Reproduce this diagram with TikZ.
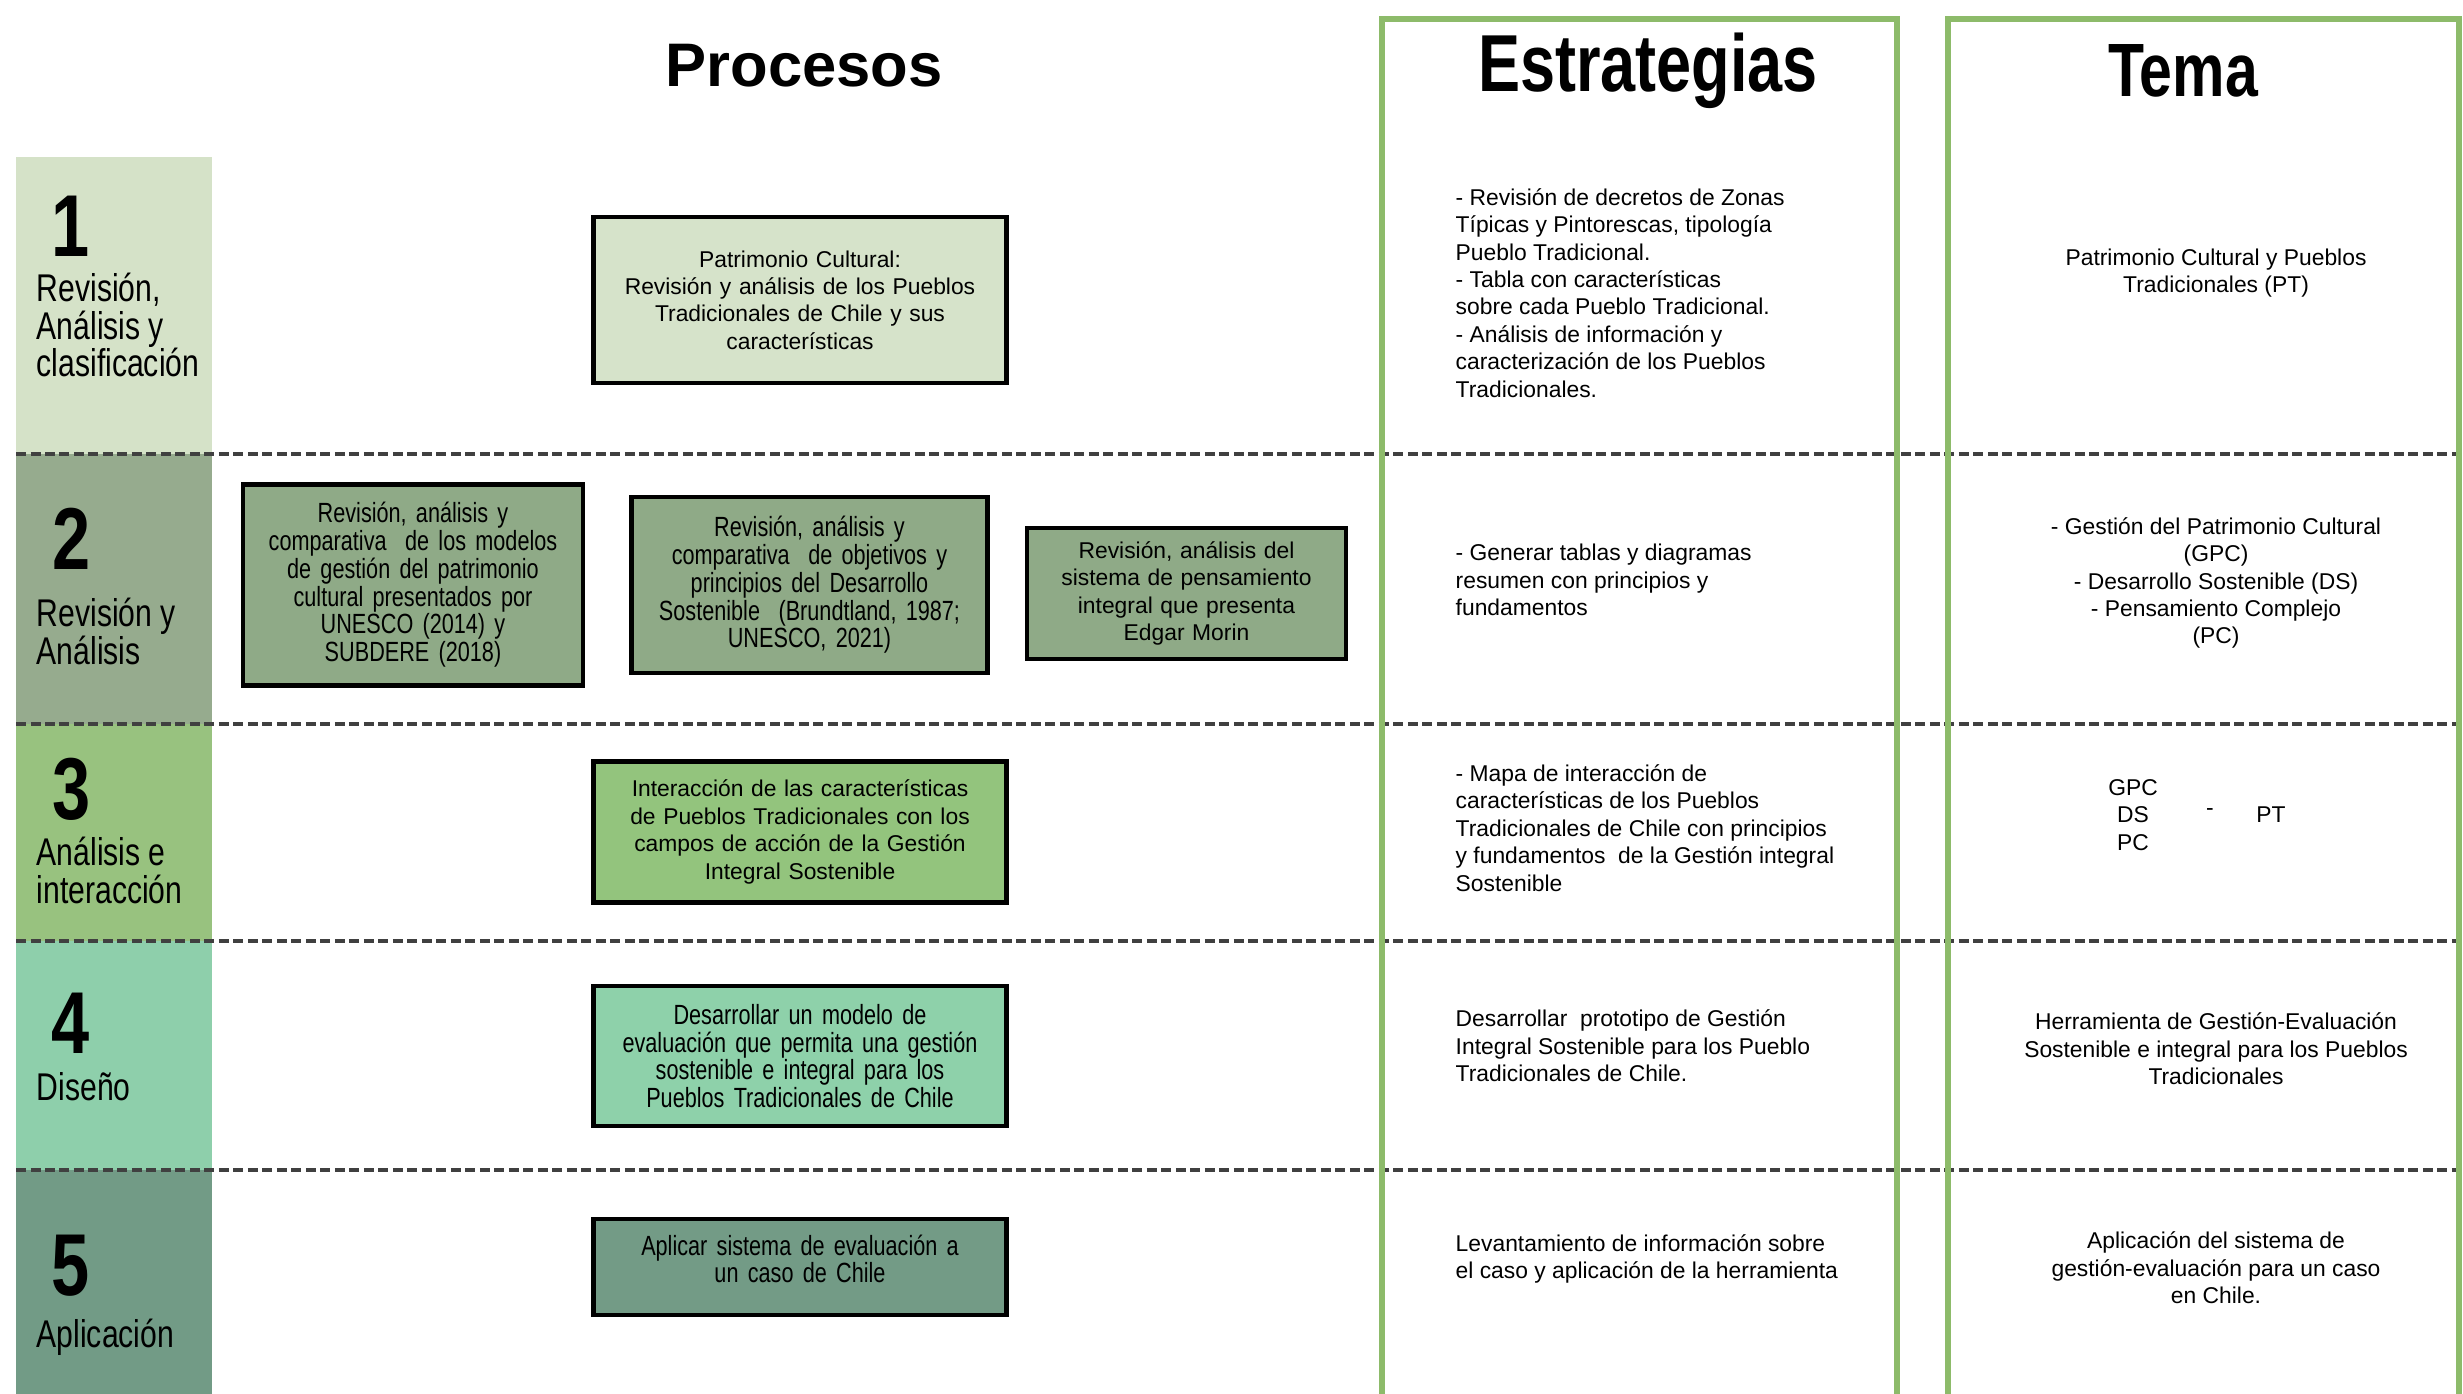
\documentclass[tikz,border=0pt]{standalone}
\usepackage{fontspec}
\setmainfont{Liberation Sans}
\newfontfamily\narrowfont[FakeStretch=0.78]{Liberation Sans}
\usepackage{tikz}
\usetikzlibrary{positioning}

\definecolor{stageA}{RGB}{213,226,200}
\definecolor{stageB}{RGB}{150,171,142}
\definecolor{stageC}{RGB}{152,194,127}
\definecolor{stageD}{RGB}{142,207,171}
\definecolor{stageE}{RGB}{114,155,134}
\definecolor{boxA}{RGB}{214,227,202}
\definecolor{boxB}{RGB}{143,170,135}
\definecolor{boxC}{RGB}{147,196,125}
\definecolor{boxD}{RGB}{142,209,170}
\definecolor{boxE}{RGB}{115,155,134}
\definecolor{frameGreen}{RGB}{141,187,106}
\definecolor{dashGray}{RGB}{64,64,64}

\begin{document}
\begin{tikzpicture}[
  x=0.1mm, y=-0.1mm,
  procbox/.style={rectangle, draw=black, line width=0.45mm, align=center,
                  inner sep=0pt, font={\fontsize{6.5}{7.8}\selectfont}},
  narrowbox/.style={procbox, font={\narrowfont\fontsize{7.9}{7.9}\selectfont\spaceskip=0.2em plus 0.05em}},
  num/.style={font={\narrowfont\bfseries\fontsize{25}{25}\selectfont}, inner sep=0pt},
  stagetext/.style={font={\narrowfont\fontsize{11}{10.8}\selectfont\spaceskip=0.2em plus 0.05em}, align=left,
                    anchor=west, inner sep=0pt},
  head/.style={font={\narrowfont\bfseries\fontsize{23}{23}\selectfont}, inner sep=0pt},
  strat/.style={font={\fontsize{6.5}{7.8}\selectfont}, align=left, anchor=west, inner sep=0pt},
  tema/.style={font={\fontsize{6.5}{7.8}\selectfont}, align=center, inner sep=0pt},
  rowline/.style={dashGray, line width=0.4mm, dash pattern=on 1mm off 0.45mm},
  frame/.style={frameGreen, line width=0.55mm}
]
\useasboundingbox (0,0) rectangle (2463,1394);

% stage column
\foreach \ya/\yb/\col in {157/454/stageA, 454/724/stageB, 724/941/stageC,
                          941/1170/stageD, 1170/1394/stageE}
  \fill[\col] (16,\ya) rectangle (212,\yb);

\foreach \yy in {454,724,941,1170}
  \draw[rowline] (16,\yy) -- (2463,\yy);

\draw[frame] (1382,1394) |- (1897,19) -- (1897,1394);
\draw[frame] (1948,1394) |- (2459,19) -- (2459,1394);

% headers
\node[inner sep=0pt, font={\bfseries\fontsize{17.5}{17.5}\selectfont}] (hProc) at (804,66) {Procesos};
\node[head] (hEstr) at (1648,71) {Estrategias};
\node[head, font={\narrowfont\bfseries\fontsize{21.5}{21.5}\selectfont}] (hTema) at (2183,71) {Tema};

\node[num] (n1) at (71,226) {1};
\node[stagetext] (s1) at (36,325) {Revisión,\\Análisis y\\clasificación};
\node[num] (n2) at (72,539) {2};
\node[stagetext] (s2) at (36,631) {Revisión y\\Análisis};
\node[num] (n3) at (72,789) {3};
\node[stagetext] (s3) at (36,870) {Análisis e\\interacción};
\node[num] (n4) at (71,1023) {4};
\node[stagetext] (s4) at (36,1087) {Diseño};
\node[num] (n5) at (71,1266) {5};
\node[stagetext] (s5) at (36,1337) {Aplicación};

% procesos
\node[procbox, fill=boxA, minimum width=41.3mm, minimum height=16.6mm, text width=40mm]
  (p1) at (800,300) {Patrimonio Cultural:\\Revisión y análisis de los Pueblos\\Tradicionales de Chile y sus\\características};
\node[narrowbox, fill=boxB, minimum width=34mm, minimum height=20.1mm, text width=33mm]
  (p2a) at (413,585) {Revisión, análisis y\\comparativa \ de los modelos\\de gestión del patrimonio\\cultural presentados por\\UNESCO (2014) y\\SUBDERE (2018)};
\node[narrowbox, fill=boxB, minimum width=35.6mm, minimum height=17.6mm, text width=34.5mm,
      right=4.4mm of p2a] (p2b) {Revisión, análisis y\\comparativa \ de objetivos y\\principios del Desarrollo\\Sostenible \ (Brundtland, 1987;\\UNESCO, 2021)};
\node[procbox, fill=boxB, minimum width=31.9mm, minimum height=13.1mm, text width=31mm,
      right=3.5mm of p2b, yshift=-0.85mm] (p2c) {Revisión, análisis del\\sistema de pensamiento\\integral que presenta\\Edgar Morin};
\node[procbox, fill=boxC, minimum width=41.3mm, minimum height=14.1mm, text width=40mm]
  (p3) at (800,832) {Interacción de las características\\de Pueblos Tradicionales con los\\campos de acción de la Gestión\\Integral Sostenible};
\node[narrowbox, fill=boxD, minimum width=41.3mm, minimum height=14mm, text width=40mm]
  (p4) at (800,1056) {Desarrollar un modelo de\\evaluación que permita una gestión\\sostenible e integral para los\\Pueblos Tradicionales de Chile};
\node[narrowbox, fill=boxE, minimum width=41.3mm, minimum height=9.6mm, text width=40mm]
  (p5) at (800,1267) {Aplicar sistema de evaluación a\\un caso de Chile\\[-1.15mm]\mbox{}};

% estrategias
\node[strat] (e1) at (1455,293) {- Revisión de decretos de Zonas\\Típicas y Pintorescas, tipología\\Pueblo Tradicional.\\- Tabla con características\\sobre cada Pueblo Tradicional.\\- Análisis de información y\\caracterización de los Pueblos\\Tradicionales.};
\node[strat] (e2) at (1455,580) {- Generar tablas y diagramas\\resumen con principios y\\fundamentos};
\node[strat] (e3) at (1455,828) {- Mapa de interacción de\\características de los Pueblos\\Tradicionales de Chile con principios\\y fundamentos \ de la Gestión integral\\Sostenible};
\node[strat] (e4) at (1455,1046) {Desarrollar \ prototipo de Gestión\\Integral Sostenible para los Pueblo\\Tradicionales de Chile.};
\node[strat] (e5) at (1455,1259) {Levantamiento de información sobre\\el caso y aplicación de la herramienta};

% tema
\node[tema] (t1) at (2216,273) {Patrimonio Cultural y Pueblos\\Tradicionales (PT)};
\node[tema] (t2) at (2216,583) {- Gestión del Patrimonio Cultural\\(GPC)\\- Desarrollo Sostenible (DS)\\- Pensamiento Complejo\\(PC)};
\node[tema] (t3a) at (2133,815) {GPC\\DS\\PC};
\node[tema] (t3b) at (2210,812) {-};
\node[tema] (t3c) at (2271,815) {PT};
\node[tema] (t4) at (2216,1049) {Herramienta de Gestión-Evaluación\\Sostenible e integral para los Pueblos\\Tradicionales};
\node[tema] (t5) at (2216,1268) {Aplicación del sistema de\\gestión-evaluación para un caso\\en Chile.};

\end{tikzpicture}
\end{document}
